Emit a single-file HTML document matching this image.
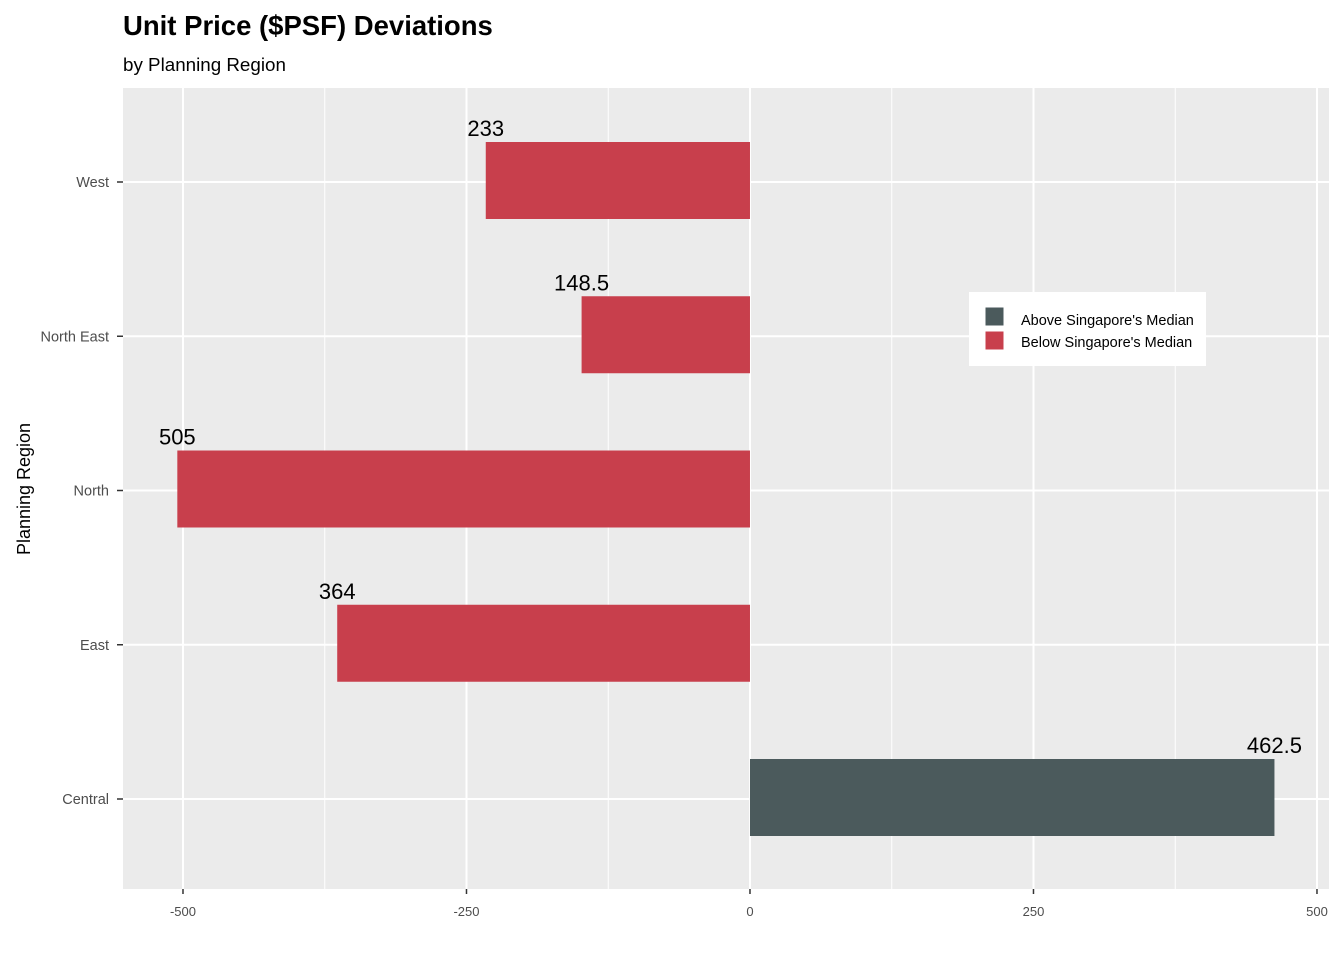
<!DOCTYPE html>
<html><head><meta charset="utf-8">
<style>
html,body{margin:0;padding:0;background:#fff;}
svg{display:block;font-family:"Liberation Sans",Arial,sans-serif;}
</style></head>
<body>
<svg id="chart" width="1344" height="960" viewBox="0 0 1344 960" xmlns="http://www.w3.org/2000/svg">
<text x="123" y="35" font-size="27.5" font-weight="bold" fill="#000">Unit Price ($PSF) Deviations</text>
<text x="123" y="71" font-size="18.8" fill="#000">by Planning Region</text>
<rect x="123" y="88" width="1206" height="801" fill="#ebebeb"/>
<g id="grid"></g>
<g id="bars"></g>
<g id="labels"></g>
<g id="yaxis"></g>
<g id="xaxis"></g>
<text transform="translate(30,489) rotate(-90)" text-anchor="middle" font-size="18" fill="#000">Planning Region</text>
<g>
<rect x="969" y="292" width="237" height="74" fill="#fff"/>
<rect x="985" y="307" width="19" height="19" fill="#4b5a5c" stroke="#fff"/>
<text x="1021" y="325" font-size="14.5" fill="#000">Above Singapore's Median</text>
<rect x="985" y="331" width="19" height="19" fill="#c83f4c" stroke="#fff"/>
<text x="1021" y="347" font-size="14.5" fill="#000">Below Singapore's Median</text>
</g>
</svg>
<script>
const categories = ["Central","East","North","North East","West"];
const values = [462.5, -364, -505, -148.5, -233];
const labels = ["462.5","364","505","148.5","233"];
const xTicks = [-500,-250,0,250,500];
const xMinor = [-375,-125,125,375];

const NS="http://www.w3.org/2000/svg";
const px0=123, px1=1329, py0=88, py1=889;
const dMin=-552.9, dMax=510.6;
function sx(v){return px0+(v-dMin)/(dMax-dMin)*(px1-px0);}
const step=154.25;
function sy(i){return 799-i*step;}
const barH=77;
function mk(tag,attrs,parent){const e=document.createElementNS(NS,tag);for(const k in attrs)e.setAttribute(k,attrs[k]);parent.appendChild(e);return e;}
const grid=document.getElementById('grid'),bars=document.getElementById('bars'),lab=document.getElementById('labels'),ya=document.getElementById('yaxis'),xa=document.getElementById('xaxis');
xMinor.forEach(v=>{const l=mk('line',{x1:sx(v),x2:sx(v),y1:py0,y2:py1,stroke:'#fff','stroke-width':1},grid);

});
xTicks.forEach(v=>{const l=mk('line',{x1:sx(v),x2:sx(v),y1:py0,y2:py1,stroke:'#fff','stroke-width':2},grid);


const t=mk('line',{x1:sx(v),x2:sx(v),y1:py1,y2:py1+5,stroke:'#333','stroke-width':1.5},xa);


const tx=mk('text',{x:sx(v),y:py1+27,'text-anchor':'middle','font-size':13,fill:'#4d4d4d'},xa);tx.textContent=String(v);

});
categories.forEach((c,i)=>{const y=sy(i);
const g=mk('line',{x1:px0,x2:px1,y1:y,y2:y,stroke:'#fff','stroke-width':2},grid);


const t=mk('line',{x1:px0-6,x2:px0,y1:y,y2:y,stroke:'#333','stroke-width':1.5},ya);


const tx=mk('text',{x:px0-14,y:y+5,'text-anchor':'end','font-size':14.5,fill:'#4d4d4d'},ya);tx.textContent=c;


const v=values[i];const x0=sx(Math.min(0,v)),x1=sx(Math.max(0,v));
const yc=y-1.5;
const r=mk('rect',{x:x0,y:yc-barH/2,width:x1-x0,height:barH,fill:v>=0?'#4b5a5c':'#c83f4c'},bars);


const lt=mk('text',{x:sx(v),y:yc-barH/2-6,'text-anchor':'middle','font-size':22,fill:'#000'},lab);lt.textContent=labels[i];

});
</script>
</body></html>
